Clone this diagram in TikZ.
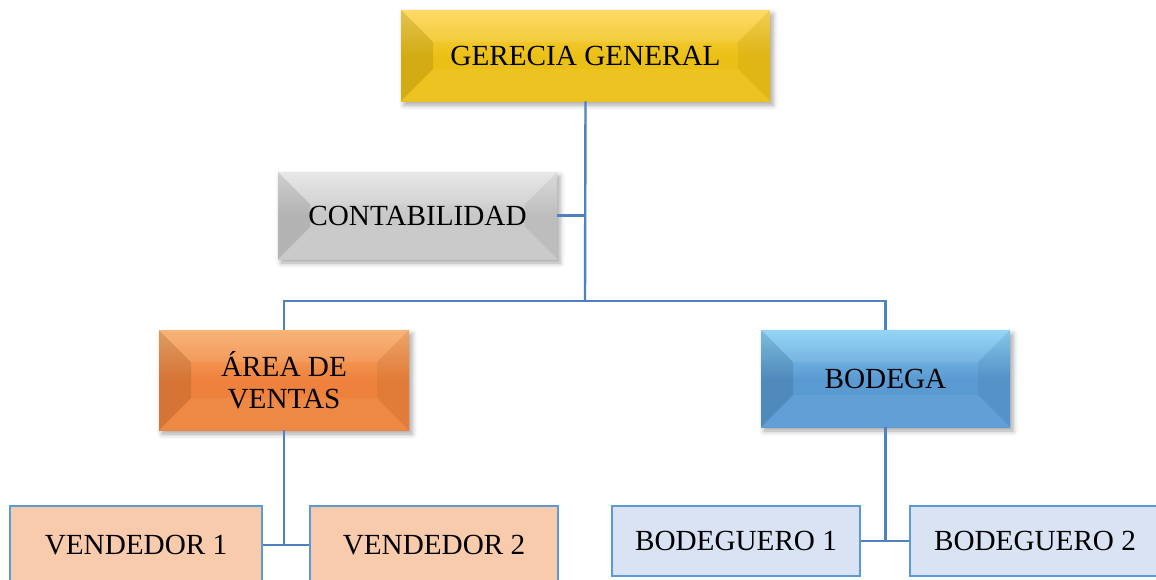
\documentclass[tikz,border=0pt]{standalone}
\usepackage{fontspec}
\setmainfont{Liberation Serif}
\usepackage{tikz}
\usetikzlibrary{calc,shadows.blur}
\definecolor{LineBlue}{HTML}{4F81BD}
\definecolor{GoldTop}{HTML}{FFD85A}
\definecolor{GoldBot}{HTML}{EBC016}
\definecolor{GreyTop}{HTML}{E6E6E6}
\definecolor{GreyBot}{HTML}{C8C8C8}
\definecolor{OrangeTop}{HTML}{F9AE6E}
\definecolor{OrangeBot}{HTML}{EE823C}
\definecolor{BlueTop}{HTML}{8CD2F6}
\definecolor{BlueBot}{HTML}{5A9AD2}
\definecolor{PeachFill}{HTML}{F8CBAD}
\definecolor{IceFill}{HTML}{DAE3F3}
\definecolor{BoxEdge}{HTML}{5B9BD5}

\begin{document}
\begin{tikzpicture}[x=0.5pt,y=-0.5pt,
                    every node/.style={font=\fontsize{14.6}{16}\selectfont, align=center, inner sep=0pt},
                    bevel/.style 2 args={top color=#1, bottom color=#2, middle color=#2,
                                         blur shadow={shadow xshift=1.5pt, shadow yshift=-2pt, shadow blur radius=2.5pt, shadow opacity=35},
                                         path picture={
                                           \path (path picture bounding box.north west) coordinate (nw)
                                                 (path picture bounding box.south east) coordinate (se);
                                           \coordinate (a) at ($(nw)+(16pt,-16pt)$);
                                           \coordinate (b) at ($(se)+(-16pt,16pt)$);
                                           \fill[black,opacity=.10] (nw) -- (a) -- (a|-b) -- (nw|-se) -- cycle;
                                           \fill[black,opacity=.05] (se) -- (b) -- (b|-a) -- (se|-nw) -- cycle;
                                           \fill[white,opacity=.08] (nw) -- (a) -- (b|-a) -- (se|-nw) -- cycle;
                                           \fill[white,opacity=.05] (nw|-se) -- (a|-b) -- (b) -- (se) -- cycle;
                                         }},
                    leaf/.style={draw=BoxEdge, line width=1.3pt, fill=#1},
                    link/.style={draw=LineBlue, line width=1.2pt}]
\useasboundingbox (0,0) rectangle (1156,579);
\node[bevel={GoldTop}{GoldBot}, minimum width=184.5pt, minimum height=45.5pt] (ger) at (585.5,55.5) {GERECIA GENERAL};
\node[bevel={GreyTop}{GreyBot}, minimum width=139.5pt, minimum height=43.5pt] (cont) at (417.5,215.5) {CONTABILIDAD};
\node[bevel={OrangeTop}{OrangeBot}, minimum width=125pt, minimum height=50pt] (area) at (284,380) {ÁREA DE\\VENTAS};
\node[bevel={BlueTop}{BlueBot}, minimum width=124.5pt, minimum height=48.5pt] (bod) at (885.5,378.5) {BODEGA};
\node[leaf=PeachFill, minimum width=126pt, minimum height=39pt] (ven1) at (136,545) {VENDEDOR 1};
\node[leaf=PeachFill, minimum width=124pt, minimum height=39pt] (ven2) at (434,545) {VENDEDOR 2};
\node[leaf=IceFill, minimum width=124pt, minimum height=35pt] (bdg1) at (736,541) {BODEGUERO 1};
\node[leaf=IceFill, minimum width=125pt, minimum height=35pt] (bdg2) at (1035,541) {BODEGUERO 2};
\coordinate (hub) at (585,301);
\draw[link] (ger.south) -- (hub);
\draw[link] (cont.east) -- (cont.east -| hub);
\draw[link] (area.north) |- (hub) -| (bod.north);
\draw[link] (area.south) -- (area.south |- ven1.east);
\draw[link] (ven1.east) -- (ven2.west);
\draw[link] (bod.south) -- (bod.south |- bdg1.east);
\draw[link] (bdg1.east) -- (bdg2.west);
\end{tikzpicture}
\end{document}
